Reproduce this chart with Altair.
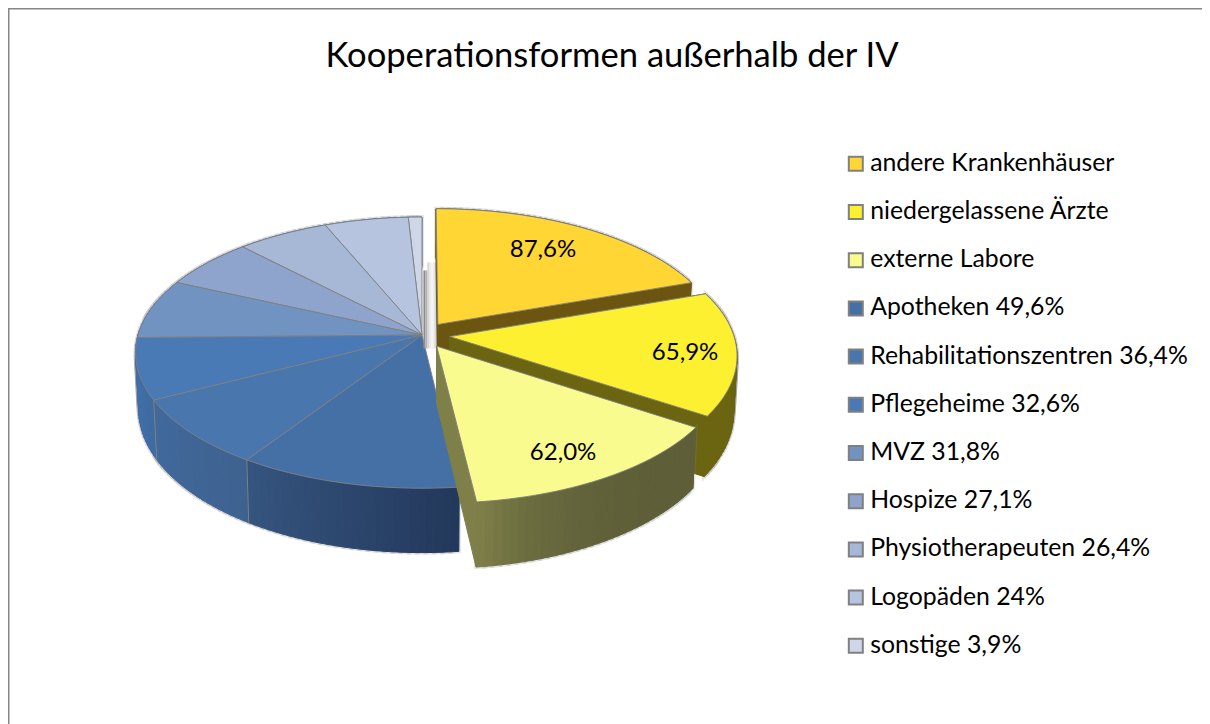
import math
import altair as alt
import pandas as pd

# ---- values ----
categories = ["andere Krankenhäuser", "niedergelassene Ärzte", "externe Labore",
              "Apotheken 49,6%", "Rehabilitationszentren 36,4%", "Pflegeheime 32,6%",
              "MVZ 31,8%", "Hospize 27,1%", "Physiotherapeuten 26,4%", "Logopäden 24%",
              "sonstige 3,9%"]
values = [87.6, 65.9, 62.0, 49.6, 36.4, 32.6, 31.8, 27.1, 26.4, 24.0, 3.9]
top_colors = ["#FFD633", "#FDF030", "#F9FB8E", "#4470A5", "#4876AD", "#4A7AB6",
              "#7093C2", "#8FA4CC", "#A7B7D6", "#B7C4DF", "#CDD7E8"]
wall_start = ["#6B5510", "#6B6410", "#5E5F38", "#23385B", "#3E6290", "#3E6BA1",
              "#4070AB", "#4070AB", "#4070AB", "#4070AB", "#4070AB"]
wall_end = ["#6B5510", "#6B6410", "#7F8049", "#35557F", "#41699C", "#4070AB",
            "#4070AB", "#4070AB", "#4070AB", "#4070AB", "#4070AB"]
wall_power = [1, 1, 4, 1, 1, 1, 1, 1, 1, 1, 1]
exploded = [True, True, True] + [False] * 8
slice_labels = ["87,6%", "65,9%", "62,0%"]
label_radius = [0.739, 0.822, 0.813]
label_shift_deg = [-1.75, 1.5, 2.5]
shade_grays = ["#8f8f8f", "#b4b4b4", "#d6d6d6", "#ececec", "#f4f4f4", "#e6e6e6", "#c4c4c4"]

# ---- 3-D pie projection ----
CX, CY = 414, 327        # apex, relative to the plot origin
RX, RY = 284, 133.3
K = 0.13                 # perspective
DEPTH = 56
BOTTOM = 0.989
EXPLODE = 0.098
W, H = 1194, 716
total = sum(values)


def point(theta, r, mid, e, low=False):
    u = e * math.sin(mid) + r * math.sin(theta)
    v = -e * math.cos(mid) - r * math.cos(theta)
    z = 1 / (1 - K * v)
    if low:
        return [CX + RX * u * z * BOTTOM, CY + RY * v * z + DEPTH * z]
    return [CX + RX * u * z, CY + RY * v * z]


def mix(a, b, t):
    pa = [int(a[i:i + 2], 16) for i in (1, 3, 5)]
    pb = [int(b[i:i + 2], 16) for i in (1, 3, 5)]
    return "#%02x%02x%02x" % tuple(round(x + (y - x) * t) for x, y in zip(pa, pb))


def feature(ring, **props):
    return {"type": "Feature", "properties": props,
            "geometry": {"type": "Polygon", "coordinates": [ring + [ring[0]]]}}


angles = [0.0]
for val in values:
    angles.append(angles[-1] + val / total * 2 * math.pi)


def top_feature(i):
    a, b = angles[i], angles[i + 1]
    mid, e = (a + b) / 2, (EXPLODE if exploded[i] else 0)
    n = max(4, int((b - a) * 40))
    ring = [point(a, 0, mid, e)] + [point(a + (b - a) * j / n, 1, mid, e) for j in range(n + 1)]
    return feature(ring, name=categories[i])


def rim_features(i):
    a, b = angles[i], angles[i + 1]
    mid, e = (a + b) / 2, (EXPLODE if exploded[i] else 0)
    out = []
    n = max(4, int((b - a) * 40))
    for j in range(n):
        t0 = a + (b - a) * j / n
        t1 = a + (b - a) * (j + 1) / n
        ring = [point(t0, 1, mid, e), point(t1, 1, mid, e), point(t1, 1, mid, e, True), point(t0, 1, mid, e, True)]
        col = mix(wall_start[i], wall_end[i], ((j + 0.5) / n) ** wall_power[i])
        out.append(feature(ring, fill=col))
    return out


def cut_features(i):
    a, b = angles[i], angles[i + 1]
    mid, e = (a + b) / 2, (EXPLODE if exploded[i] else 0)
    out = []
    if exploded[i]:
        for t in (a, b):
            ring = [point(t, 0, mid, e), point(t, 1, mid, e), point(t, 1, mid, e, True), point(t, 0, mid, e, True)]
            out.append(feature(ring, fill=mix(wall_start[i], wall_end[i], 0.0 if t == a else 1.0)))
    return out


PROJ = dict(type="identity", scale=1, translate=[0, 0])
color = alt.Color("properties.name:N", scale=alt.Scale(domain=categories, range=top_colors),
                  sort=categories,
                  legend=alt.Legend(title=None, orient="none", legendX=835.4, legendY=143.4,
                                    symbolType="square", symbolSize=196, symbolStrokeWidth=2,
                                    symbolStrokeColor="#808080", labelFont="Lato", labelFontSize=24.8,
                                    labelColor="#000000", labelLimit=400, rowPadding=22.2,
                                    labelOffset=2, padding=0))


def walls_layer(feats):
    return alt.Chart(alt.Data(values=feats)).mark_geoshape(strokeWidth=1).encode(
        fill=alt.Fill("properties.fill:N", scale=None),
        stroke=alt.Stroke("properties.fill:N", scale=None),
    ).project(**PROJ)


def halo_layer(feats):
    return alt.Chart(alt.Data(values=feats)).mark_geoshape(
        stroke="#8a8a8a", strokeWidth=4, strokeOpacity=0.22, fillOpacity=0).project(**PROJ)


def tops_layer(indices):
    feats = [top_feature(i) for i in indices]
    return alt.Chart(alt.Data(values=feats)).mark_geoshape(
        stroke="#808080", strokeWidth=1, strokeOpacity=0.9).encode(color=color).project(**PROJ)


layers = []
blue = list(range(10, 2, -1))
blue_rim = [f for i in blue for f in rim_features(i)]
layers += [halo_layer(blue_rim), walls_layer(blue_rim), tops_layer(blue)]

# soft shadow strip beside the first slice's straight edge
apex = point(0, 0, (angles[0] + angles[1]) / 2, EXPLODE)
shade = []
for j, g in enumerate(shade_grays):
    x0 = apex[0] - 14.5 + j * 2
    top = apex[1] - 62 + (0 if j > 1 else 8)
    bot = apex[1] + 24
    shade.append(feature([[x0, top], [x0 + 2.2, top], [x0 + 2.2, bot], [x0, bot]], fill=g))
layers.append(alt.Chart(alt.Data(values=shade)).mark_geoshape(strokeWidth=0).encode(
    fill=alt.Fill("properties.fill:N", scale=None)).project(**PROJ))

for i in (0, 1, 2):
    rim = rim_features(i)
    layers += [halo_layer(rim), walls_layer(cut_features(i)), walls_layer(rim), tops_layer([i])]

# wall separators on the blue part
seps = []
for i in (4, 5):
    t = angles[i]
    seps.append({"x": point(t, 1, 0, 0)[0], "y": point(t, 1, 0, 0)[1],
                 "x2": point(t, 1, 0, 0, True)[0], "y2": point(t, 1, 0, 0, True)[1]})
sep_layer = alt.Chart(pd.DataFrame(seps)).mark_rule(color="#808080", strokeWidth=1).encode(
    x=alt.X("x:Q", scale=None, axis=None), y=alt.Y("y:Q", scale=None, axis=None),
    x2="x2:Q", y2="y2:Q")

# slice labels
lab = []
for i, txt in enumerate(slice_labels):
    mid = (angles[i] + angles[i + 1]) / 2
    p = point(mid + math.radians(label_shift_deg[i]), label_radius[i], mid, EXPLODE)
    lab.append({"x": p[0], "y": p[1], "t": txt})
label_layer = alt.Chart(pd.DataFrame(lab)).mark_text(
    font="Lato", fontSize=24, color="#000000").encode(
    x=alt.X("x:Q", scale=None, axis=None), y=alt.Y("y:Q", scale=None, axis=None), text="t:N")

# frame: top and left only
frame = pd.DataFrame({"k": ["a"]})
top_rule = alt.Chart(frame).mark_rule(color="#868686", strokeWidth=2).encode(
    x=alt.value(0), x2=alt.value(W), y=alt.value(0.5))
left_rule = alt.Chart(frame).mark_rule(color="#868686", strokeWidth=2).encode(
    x=alt.value(0.5), y=alt.value(0), y2=alt.value(H))

chart = alt.layer(*layers, sep_layer, label_layer, top_rule, left_rule).properties(
    width=W, height=H, padding=0, autosize="none",
    title=alt.TitleParams("Kooperationsformen außerhalb der IV", font="Lato", fontSize=34.6,
                          fontWeight="normal", color="#000000", anchor="middle", dy=72, dx=7),
).configure_view(stroke=None)

chart.save("out.html", embed_options={"renderer": "svg", "actions": False})
